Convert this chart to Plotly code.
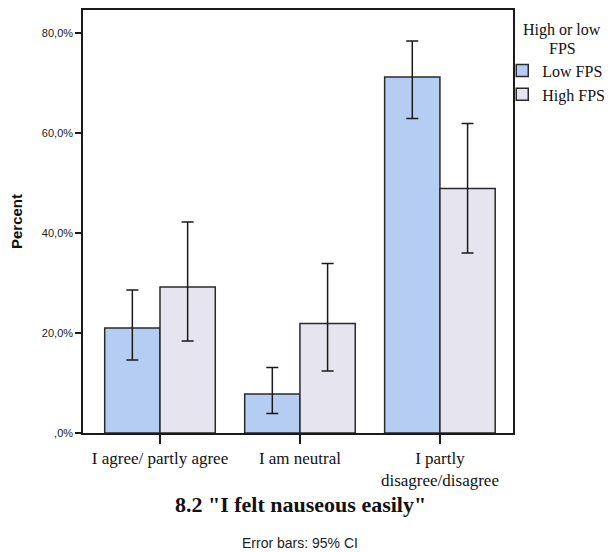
import plotly.graph_objects as go

# Response categories and grouped percentages
categories = ["I agree/ partly agree", "I am neutral", "I partly<br>disagree/disagree"]
groups = ["Low FPS", "High FPS"]

low_pct = [21.0, 7.8, 71.2]
high_pct = [29.2, 21.9, 48.9]

# 95% confidence interval bounds
low_ci_lower = [14.6, 3.9, 62.9]
low_ci_upper = [28.6, 13.1, 78.4]
high_ci_lower = [18.4, 12.4, 36.0]
high_ci_upper = [42.2, 33.9, 61.9]

y_tickvals = [0, 20, 40, 60, 80]
y_ticktext = [",0%", "20,0%", "40,0%", "60,0%", "80,0%"]

legend_heading = ["High or low", "FPS"]

colors = {"Low FPS": "#b6cdf3", "High FPS": "#e6e4ee"}

series = {
    "Low FPS": (low_pct, low_ci_lower, low_ci_upper),
    "High FPS": (high_pct, high_ci_lower, high_ci_upper),
}

SERIF = "Liberation Serif, Times New Roman, serif"
SANS = "Liberation Sans, Arial, sans-serif"

fig = go.Figure()
for name in groups:
    vals, lo, hi = series[name]
    fig.add_trace(go.Bar(
        name=name,
        x=list(range(len(categories))),
        y=vals,
        marker=dict(color=colors[name], line=dict(color="#2a2a2a", width=1.5)),
        error_y=dict(
            type="data",
            symmetric=False,
            array=[h - v for h, v in zip(hi, vals)],
            arrayminus=[v - l for v, l in zip(vals, lo)],
            color="#1a1a1a",
            thickness=1.5,
            width=6,
        ),
    ))

fig.update_layout(
    width=615,
    height=552,
    barmode="group",
    bargap=0.21,
    bargroupgap=0,
    paper_bgcolor="white",
    plot_bgcolor="white",
    margin=dict(l=83, r=102, t=10, b=119, autoexpand=False),
    font=dict(family=SERIF, color="#111"),
    legend=dict(
        x=0.975, y=0.897, xanchor="left", yanchor="top",
        font=dict(family=SERIF, size=16, color="#111"),
        itemwidth=30,
        tracegroupgap=0,
        bgcolor="rgba(0,0,0,0)",
    ),
    showlegend=True,
)

fig.update_xaxes(
    range=[-0.55, 2.522],
    tickvals=list(range(len(categories))),
    ticktext=categories,
    ticks="outside",
    ticklen=9,
    tickwidth=1.5,
    tickcolor="#1a1a1a",
    showline=True,
    linecolor="#1a1a1a",
    linewidth=1.5,
    mirror=True,
    showgrid=False,
    zeroline=False,
    tickfont=dict(family=SERIF, size=17, color="#111"),
)

fig.update_yaxes(
    range=[0, 84.6],
    tickvals=y_tickvals,
    ticktext=y_ticktext,
    ticks="outside",
    ticklen=6,
    tickwidth=1.5,
    tickcolor="#1a1a1a",
    showline=True,
    linecolor="#1a1a1a",
    linewidth=1.5,
    mirror=True,
    showgrid=False,
    zeroline=False,
    tickfont=dict(family=SANS, size=11, color="#222"),
    title=dict(text="<b>Percent</b>", standoff=16,
               font=dict(family=SANS, size=15, color="#111")),
)

# Legend heading, two centred lines above the legend entries
for i, line in enumerate(legend_heading):
    fig.add_annotation(
        text=line,
        xref="paper", yref="paper", x=1.0 + 49 / 430, y=1.0 - (20 + 18 * i) / 423,
        xanchor="center", yanchor="middle", showarrow=False,
        font=dict(family=SERIF, size=16, color="#111"),
    )

fig.add_annotation(
    text='<b>8.2 "I felt nauseous easily"</b>',
    xref="paper", yref="paper", x=0.505, y=-0.168,
    xanchor="center", yanchor="middle", showarrow=False,
    font=dict(family=SERIF, size=22, color="#111"),
)
fig.add_annotation(
    text="Error bars: 95% CI",
    xref="paper", yref="paper", x=0.505, y=-0.261,
    xanchor="center", yanchor="middle", showarrow=False,
    font=dict(family=SANS, size=14, color="#222"),
)

fig.write_html("out.html")
